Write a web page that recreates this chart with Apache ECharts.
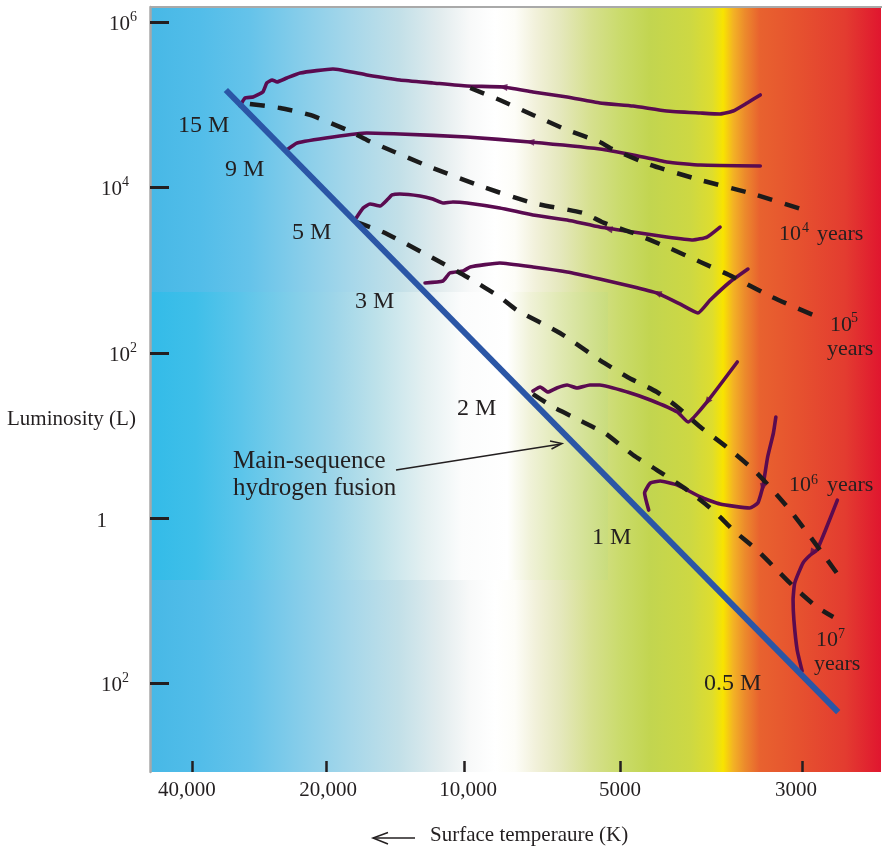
<!DOCTYPE html>
<html>
<head>
<meta charset="utf-8">
<title>Pre-main-sequence evolutionary tracks</title>
<script src="https://cdn.jsdelivr.net/npm/echarts@6/dist/echarts.min.js"></script>
<style>
  html, body { margin: 0; padding: 0; background: #ffffff; }
  #chart { width: 885px; height: 851px; }
</style>
</head>
<body>
<div id="chart"></div>
<script>
// ---------------------------------------------------------------
// Axis ticks
// ---------------------------------------------------------------
// Surface temperature ticks (K) and their places along the (non-uniform) axis, 0..100
const tempTicks = [40000, 20000, 10000, 5000, 3000];
const tempTickLabels = ['40,000', '20,000', '10,000', '5000', '3000'];
const tempTickPos = [5.745, 24.077, 42.955, 64.296, 89.193];

// Luminosity ticks, log10(L / Lsun)
const lumTicks = [-2, 0, 2, 4, 6];
const lumTickLabels = ['10|2', '1', '10|2', '10|4', '10|6'];

// ---------------------------------------------------------------
// Evolutionary tracks, each point = [log10 T (K), log10 L (Lsun)]
// ---------------------------------------------------------------
const track15 = [[4.494,4.988],[4.483,5.085],[4.465,5.097],[4.443,5.158],[4.434,5.267],[4.422,5.303],
  [4.411,5.279],[4.389,5.327],[4.359,5.388],[4.286,5.436],[4.212,5.364],[4.140,5.303],[4.068,5.267],
  [3.994,5.230],[3.925,5.218],[3.867,5.158],[3.801,5.097],[3.738,5.025],[3.683,4.988],[3.642,4.928],
  [3.601,4.904],[3.577,4.892],[3.561,4.928],[3.544,5.025],[3.528,5.122]];
const track9 = [[4.389,4.456],[4.366,4.541],[4.286,4.613],[4.212,4.662],[4.140,4.650],[3.994,4.613],
  [3.873,4.553],[3.738,4.468],[3.683,4.396],[3.642,4.311],[3.601,4.275],[3.528,4.263]];
const track5 = [[4.238,3.609],[4.220,3.754],[4.205,3.803],[4.183,3.779],[4.166,3.863],[4.157,3.912],
  [4.140,3.924],[4.096,3.900],[4.068,3.863],[4.046,3.815],[4.024,3.827],[3.994,3.815],[3.931,3.754],
  [3.867,3.670],[3.801,3.609],[3.738,3.524],[3.683,3.464],[3.642,3.403],[3.610,3.367],[3.593,3.403],
  [3.577,3.524]];
const track3 = [[4.085,2.847],[4.046,2.871],[4.031,2.968],[4.002,2.992],[3.988,3.041],[3.931,3.089],
  [3.867,3.041],[3.801,2.980],[3.738,2.895],[3.687,2.811],[3.654,2.726],[3.626,2.593],[3.604,2.484],
  [3.589,2.641],[3.565,2.859],[3.543,3.016]];
const track2 = [[3.867,1.540],[3.853,1.589],[3.838,1.528],[3.821,1.577],[3.801,1.613],[3.782,1.577],
  [3.757,1.613],[3.738,1.613],[3.690,1.528],[3.662,1.431],[3.629,1.286],[3.616,1.165],[3.593,1.407],
  [3.556,1.891]];
const track1 = [[3.664,0.100],[3.669,0.306],[3.662,0.427],[3.650,0.451],[3.629,0.403],[3.601,0.258],
  [3.577,0.173],[3.541,0.125],[3.531,0.185],[3.525,0.379],[3.519,0.742],[3.512,1.032],[3.509,1.226]];
const trackHalf = [[3.477,-1.847],[3.483,-1.593],[3.487,-1.230],[3.488,-0.988],[3.486,-0.783],
  [3.476,-0.541],[3.467,-0.444],[3.459,-0.384],[3.447,-0.105],[3.434,0.221]];

// Direction markers on the tracks: [log10 T, log10 L, heading in degrees]
const trackArrows = [[3.925,5.218,85],[3.873,4.553,85],[3.722,3.500,81],[3.654,2.726,70],
  [3.593,1.407,143],[3.525,0.367,172],[3.465,-0.420,150]];

// Isochrones (equal age lines)
const iso1e4 = [[3.988,5.206],[3.931,5.061],[3.867,4.880],[3.801,4.698],[3.738,4.553],[3.718,4.480],
  [3.662,4.275],[3.601,4.093],[3.541,3.936],[3.471,3.718]];
const iso1e5 = [[4.472,5.013],[4.404,4.964],[4.337,4.880],[4.255,4.698],[4.212,4.577],[4.177,4.492],
  [4.068,4.238],[3.963,4.008],[3.867,3.815],[3.770,3.694],[3.734,3.585],[3.683,3.452],[3.642,3.283],
  [3.601,3.101],[3.561,2.920],[3.514,2.678],[3.455,2.423]];
const iso1e6 = [[4.236,3.585],[4.177,3.464],[4.068,3.149],[3.994,2.920],[3.931,2.678],[3.898,2.520],
  [3.815,2.242],[3.738,1.915],[3.690,1.710],[3.654,1.528],[3.629,1.347],[3.601,1.105],[3.569,0.863],
  [3.532,0.548],[3.495,0.137],[3.464,-0.263],[3.433,-0.686]];
const iso1e7 = [[3.867,1.504],[3.828,1.347],[3.790,1.226],[3.751,1.105],[3.728,1.032],[3.683,0.766],
  [3.654,0.584],[3.617,0.342],[3.586,0.100],[3.561,-0.142],[3.532,-0.384],[3.504,-0.662],
  [3.483,-0.867],[3.459,-1.073],[3.439,-1.194]];

// Zero-age main sequence
const mainSequence = [[4.526,5.182],[3.433,-2.344]];

// Text annotations
const massLabels = ['15 M', '9 M', '5 M', '3 M', '2 M', '1 M', '0.5 M'];
const ageExponents = ['4', '5', '6', '7'];

// ---------------------------------------------------------------
// Helpers
// ---------------------------------------------------------------
const tickLog = tempTicks.map(Math.log10);
// place a log temperature on the piecewise temperature axis
function tempPos(lt) {
  let i = 0;
  while (i < tickLog.length - 2 && lt < tickLog[i + 1]) i++;
  const f = (tickLog[i] - lt) / (tickLog[i] - tickLog[i + 1]);
  return tempTickPos[i] + f * (tempTickPos[i + 1] - tempTickPos[i]);
}
const toXY = pts => pts.map(p => [tempPos(p[0]), p[1]]);

const SERIF = '"Liberation Serif", "Times New Roman", serif';
const INK = '#231f20';
const PURPLE = '#5a0b50';

function txt(text, left, baseline, size) {
  return {
    type: 'text', z: 50,
    style: {
      text: text, x: left, y: baseline - 0.34 * size,
      font: size + 'px ' + SERIF, fill: INK,
      align: 'left', verticalAlign: 'middle',
      textAlign: 'left', textVerticalAlign: 'middle'
    }
  };
}

// plot box in pixels
const PL = 150, PT = 7, PR = 881, PB = 772;

function hGrad(stops) {
  return new echarts.graphic.LinearGradient(0, 0, 1, 0,
    stops.map(s => ({ offset: s[0], color: s[1] })));
}

const spectrumStops = [
  [0.000, '#47b8e6'], [0.068, '#52bde9'], [0.137, '#65c3ea'], [0.205, '#86cdea'],
  [0.274, '#a6d7ea'], [0.342, '#c3e0e8'], [0.397, '#e2ecee'], [0.438, '#f8f9f9'],
  [0.472, '#ffffff'], [0.499, '#fdfdf8'], [0.527, '#f2f1db'], [0.561, '#e5e8bd'],
  [0.602, '#d6e08f'], [0.643, '#cadb6c'], [0.684, '#c2d550'], [0.739, '#cdd843'],
  [0.769, '#dedd2e'], [0.784, '#f8e400'], [0.798, '#f3b225'], [0.814, '#ec8a2c'],
  [0.834, '#e8622f'], [0.889, '#e6512f'], [0.951, '#e33c30'], [1.000, '#e0162f']
];
const bandStops = [
  [0.00, '#33bbe8'], [0.10, '#3fbfe9'], [0.20, '#5cc5ea'], [0.30, '#7dcde9'],
  [0.40, '#9dd5e9'], [0.50, '#bfe2ea'], [0.60, '#e4f0f1'], [0.68, '#fbfcfc'],
  [0.78, '#ffffff'], [0.83, '#f0f2d8'], [0.90, '#dfe8b0'], [1.00, '#c9dc7c']
];

const graphics = [
  { type: 'rect', z: -10, silent: true,
    shape: { x: PL, y: PT, width: PR - PL, height: PB - PT },
    style: { fill: hGrad(spectrumStops) } },
  { type: 'rect', z: -9, silent: true,
    shape: { x: PL, y: 292, width: 458, height: 288 },
    style: { fill: hGrad(bandStops) } },
  { type: 'line', z: 20, shape: { x1: PL, y1: PT, x2: PR + 1, y2: PT },
    style: { stroke: '#a9a9a9', lineWidth: 2 } },
  // pointer to the main sequence
  { type: 'line', z: 30, shape: { x1: 396, y1: 470, x2: 561, y2: 444 },
    style: { stroke: INK, lineWidth: 1.5 } },
  { type: 'polyline', z: 30, shape: { points: [[550, 441], [562, 443.5], [551.5, 449]] },
    style: { stroke: INK, lineWidth: 1.5, fill: null } },
  // arrow before the temperature axis title
  { type: 'line', z: 30, shape: { x1: 373, y1: 838, x2: 415, y2: 838 },
    style: { stroke: INK, lineWidth: 1.5 } },
  { type: 'polyline', z: 30, shape: { points: [[388, 832.5], [373, 838], [388, 844]] },
    style: { stroke: INK, lineWidth: 1.5, fill: null } },

  txt('Luminosity (L)', 7, 427, 21),
  txt('Surface temperaure (K)', 430, 843, 21),
  txt('Main-sequence', 233, 470, 25),
  txt('hydrogen fusion', 233, 497, 25),

  txt(massLabels[0], 178, 134, 24),
  txt(massLabels[1], 225, 178, 24),
  txt(massLabels[2], 292, 241, 24),
  txt(massLabels[3], 355, 310, 24),
  txt(massLabels[4], 457, 417, 24),
  txt(massLabels[5], 592, 546, 24),
  txt(massLabels[6], 704, 692, 24),

  txt('10', 779, 242, 22), txt(ageExponents[0], 802, 233, 14), txt('years', 817, 242, 22),
  txt('10', 830, 333, 22), txt(ageExponents[1], 851, 323, 14), txt('years', 827, 357, 22),
  txt('10', 789, 493, 22), txt(ageExponents[2], 811, 485, 14), txt('years', 827, 493, 22),
  txt('10', 816, 648, 22), txt(ageExponents[3], 838, 639, 14), txt('years', 814, 672, 22)
];

// per-label nudges of the temperature tick labels
const xLabelPad = [[0, 10, 0, 0], [0, 0, 0, 4], [0, 0, 0, 8], [0, 0, 0, 0], [0, 12, 0, 0]];
const xRich = {};
xLabelPad.forEach((p, i) => {
  xRich['t' + i] = { fontFamily: SERIF, fontSize: 21, color: INK, padding: p };
});

function trackSeries(name, pts) {
  return {
    name: name, type: 'line', data: toXY(pts), showSymbol: false, smooth: 0.15,
    lineStyle: { color: PURPLE, width: 3.6, cap: 'round', join: 'round' },
    z: 3, silent: true
  };
}
function isoSeries(name, pts) {
  return {
    name: name, type: 'line', data: toXY(pts), showSymbol: false, smooth: 0.2,
    lineStyle: { color: '#1b1b1b', width: 4.5, type: [15, 13], cap: 'butt' },
    z: 4, silent: true
  };
}

const option = {
  animation: false,
  backgroundColor: '#ffffff',
  grid: { left: PL, top: PT, right: 885 - PR, bottom: 851 - PB, containLabel: false },
  xAxis: {
    type: 'value', min: 0, max: 100, position: 'bottom',
    axisLine: { show: false, onZero: false },
    splitLine: { show: false },
    axisTick: {
      show: true, inside: true, length: 11, customValues: tempTickPos,
      lineStyle: { color: INK, width: 2.5 }
    },
    axisLabel: {
      customValues: tempTickPos, margin: 8,
      formatter: function (v) {
        let best = 0;
        tempTickPos.forEach((p, i) => { if (Math.abs(p - v) < Math.abs(tempTickPos[best] - v)) best = i; });
        return '{t' + best + '|' + tempTickLabels[best] + '}';
      },
      rich: xRich
    }
  },
  yAxis: {
    type: 'value', min: -3.069, max: 6.186,
    axisLine: { show: true, onZero: false, lineStyle: { color: '#a8a8a8', width: 2.5 } },
    splitLine: { show: false },
    axisTick: {
      show: true, inside: true, length: 19, customValues: lumTicks,
      lineStyle: { color: INK, width: 3 }
    },
    axisLabel: {
      customValues: lumTicks, margin: 13,
      formatter: function (v) {
        const i = lumTicks.indexOf(Math.round(v));
        const parts = lumTickLabels[i].split('|');
        if (parts.length === 1) return '{one|' + parts[0] + '}';
        const supStyle = (v === 4 || v === -2) ? 'sp' : 's';
        return '{b|' + parts[0] + '}{' + supStyle + '|' + parts[1] + '}';
      },
      rich: {
        b: { fontFamily: SERIF, fontSize: 21, color: INK, lineHeight: 24, padding: [4, 0, 0, 0] },
        s: { fontFamily: SERIF, fontSize: 14, color: INK, lineHeight: 16, verticalAlign: 'top' },
        sp: { fontFamily: SERIF, fontSize: 14, color: INK, lineHeight: 16, verticalAlign: 'top', padding: [0, 8, 0, 0] },
        one: { fontFamily: SERIF, fontSize: 21, color: INK, lineHeight: 24, padding: [6, 30, 0, 0] }
      }
    }
  },
  graphic: graphics,
  series: [
    trackSeries('15 M', track15),
    trackSeries('9 M', track9),
    trackSeries('5 M', track5),
    trackSeries('3 M', track3),
    trackSeries('2 M', track2),
    trackSeries('1 M', track1),
    trackSeries('0.5 M', trackHalf),
    isoSeries('1e4 yr', iso1e4),
    isoSeries('1e5 yr', iso1e5),
    isoSeries('1e6 yr', iso1e6),
    isoSeries('1e7 yr', iso1e7),
    {
      name: 'main sequence', type: 'line', data: toXY(mainSequence), showSymbol: false,
      lineStyle: { color: '#2b56a6', width: 6, cap: 'butt' }, z: 5, silent: true
    },
    {
      name: 'direction', type: 'scatter', silent: true, z: 6,
      data: trackArrows.map(a => ({ value: [tempPos(a[0]), a[1]], symbolRotate: a[2] })),
      symbol: 'triangle', symbolSize: [7, 9],
      itemStyle: { color: PURPLE }
    }
  ]
};

const chart = echarts.init(document.getElementById('chart'), null, { renderer: 'canvas', width: 885, height: 851 });
chart.setOption(option);
</script>
</body>
</html>
